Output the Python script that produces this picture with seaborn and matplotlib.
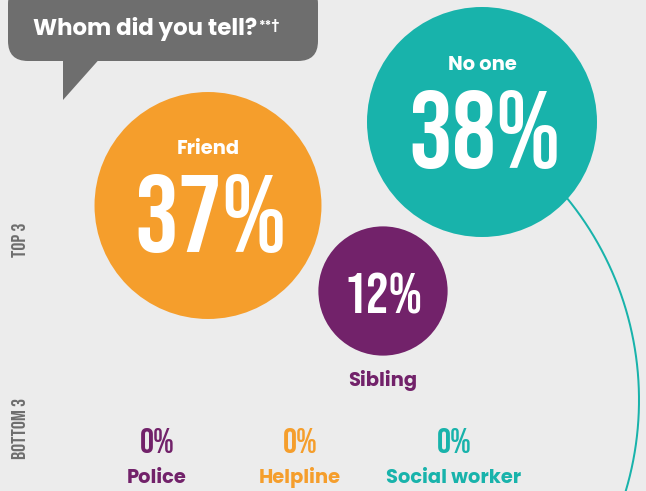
import numpy as np
import pandas as pd
import matplotlib
matplotlib.use("Agg")
import matplotlib.pyplot as plt
from matplotlib import font_manager as fm
from matplotlib.patches import FancyBboxPatch, Polygon
import seaborn as sns

# --- survey answers -------------------------------------------------------
channels = ["No one", "Friend", "Sibling", "Police", "Helpline", "Social worker"]
shares = [38, 37, 12, 0, 0, 0]
groups = ["Top 3", "Top 3", "Top 3", "Bottom 3", "Bottom 3", "Bottom 3"]
title = "Whom did you tell?"
title_mark = "**†"

# --- layout (pixel canvas 646 x 491, y downwards) --------------------------
pos_x = [482, 208, 383, 157, 300, 454]
pos_y = [122, 205.5, 291, 0, 0, 0]
colors = {"No one": "#18B3AB", "Friend": "#F59E2C", "Sibling": "#72226A",
          "Police": "#72226A", "Helpline": "#F59E2C", "Social worker": "#18B3AB"}
BG = "#ECECEC"
GREY = "#6E6E6E"
R_MAX = 115.0          # radius (px) of the largest bubble
DPI = 100

sns.set_theme(style="white")


def bold_font(candidates):
    """Return a FontProperties for the first static bold face available."""
    for name in candidates:
        for f in fm.fontManager.ttflist:
            if (f.name == name and f.style == "normal"
                    and 700 <= int(f.weight) < 800
                    and "[" not in f.fname and "Variable" not in f.fname):
                return fm.FontProperties(fname=f.fname)
    return fm.FontProperties(family="DejaVu Sans", weight="bold")


SANS_B = bold_font(["Montserrat", "Poppins", "Raleway", "Nunito Sans",
                    "Open Sans", "Lato"])
plt.rcParams["font.family"] = [SANS_B.get_name(), "DejaVu Sans"]

df = pd.DataFrame({"channel": channels, "share": shares, "group": groups,
                   "x": pos_x, "y": pos_y})
top = df[df["group"] == "Top 3"]
bottom = df[df["group"] == "Bottom 3"]

fig = plt.figure(figsize=(6.46, 4.91), dpi=DPI, facecolor=BG)
ax = fig.add_axes([0, 0, 1, 1])
ax.set_facecolor(BG)
ax.set_xlim(0, 646)
ax.set_ylim(491, 0)
ax.axis("off")

# bubble area proportional to share
px2pt = 72.0 / DPI
s_max = (2 * R_MAX * px2pt) ** 2
vmax = max(shares)
sns.scatterplot(data=top, x="x", y="y", hue="channel", palette=colors,
                size="share", sizes=(0, s_max), size_norm=(0, vmax),
                linewidth=0, alpha=1, legend=False, ax=ax, zorder=3)
ax.set_xlabel("")
ax.set_ylabel("")

# thin connector sweeping down from the "No one" bubble
t = np.linspace(np.deg2rad(-39.5), np.deg2rad(22), 300)
ax.plot(320 + 319 * np.cos(t), 400 + 319 * np.sin(t), color=colors["No one"],
        lw=2.0 * px2pt, zorder=2, solid_capstyle="butt")

# speech bubble with the question
ax.add_patch(FancyBboxPatch((8, -16), 310, 77,
                            boxstyle="round,pad=0,rounding_size=20",
                            fc=GREY, ec="none", zorder=4))
ax.add_patch(Polygon([(63, 55), (63, 100), (103, 55)], closed=True,
                     fc=GREY, ec="none", zorder=4))


def label(x, y, s, color, size, **kw):
    fp = SANS_B.copy()
    fp.set_size(size)
    return ax.text(x, y, s, color=color, fontproperties=fp, **kw)


ttl = label(33, 35, title, "white", 16.5, ha="left", va="baseline", zorder=5)
mark_fp = SANS_B.copy()
mark_fp.set_size(9)
ax.annotate(title_mark, xy=(1, 0), xycoords=ttl, xytext=(0.5, 6.5),
            textcoords="offset points", color="white", fontproperties=mark_fp,
            ha="left", va="bottom", zorder=5)

NUM_FONT = ["Bebas Neue", "Oswald", "DejaVu Sans"]
LBL = 14

# labels inside / beside the top bubbles
big = {"No one": 79, "Friend": 79, "Sibling": 41}
for _, r in top.iterrows():
    v = f"{r.share:.0f}%"
    if r.channel == "Sibling":
        ax.text(r.x, 313, v, color="white", fontsize=big[r.channel],
                family=NUM_FONT, ha="center", va="baseline", zorder=5)
        label(r.x, 386, r.channel, colors[r.channel], LBL,
              ha="center", va="baseline", zorder=5)
    else:
        ax.text(r.x + 3, r.y + 46, v, color="white", fontsize=big[r.channel],
                family=NUM_FONT, ha="center", va="baseline", zorder=5)
        label(r.x, r.y - 52, r.channel, "white", LBL,
              ha="center", va="baseline", zorder=5)

# bottom three: no bubbles, just the figures
for _, r in bottom.iterrows():
    ax.text(r.x, 453, f"{r.share:.0f}%", color=colors[r.channel],
            fontsize=25.5, family=NUM_FONT, ha="center", va="baseline")
    label(r.x, 483, r.channel, colors[r.channel], LBL,
          ha="center", va="baseline")

# side captions
ax.text(26, 240, "TOP 3", rotation=90, rotation_mode="anchor", color=GREY,
        fontsize=14.5, family=NUM_FONT, ha="center", va="baseline")
ax.text(26, 398, "BOTTOM 3", rotation=90, rotation_mode="anchor", color=GREY,
        fontsize=14.5, family=NUM_FONT, ha="right", va="baseline")

fig.savefig("out.png", dpi=DPI, facecolor=BG)
